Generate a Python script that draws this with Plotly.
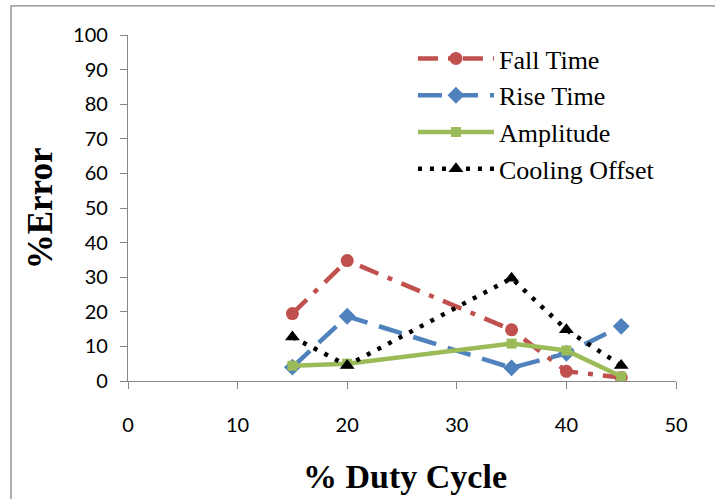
import plotly.graph_objects as go

# % duty cycle values and % error for each measured quantity
duty_cycle = [15, 20, 35, 40, 45]
fall_time = [19.5, 34.8, 14.8, 2.8, 1.0]
rise_time = [4.0, 18.7, 3.8, 8.0, 15.8]
amplitude = [4.4, 5.0, 10.8, 8.8, 1.3]
cooling_offset = [12.7, 4.5, 29.7, 14.8, 4.5]

x_ticks = [0, 10, 20, 30, 40, 50]
y_ticks = [0, 10, 20, 30, 40, 50, 60, 70, 80, 90, 100]

series = [
    ("Fall Time", fall_time, "#C0504D", "20px,10px,5px,10px", "circle", 13),
    ("Rise Time", rise_time, "#4F81BD", "24px,12px", "diamond", 13),
    ("Amplitude", amplitude, "#9BBB59", "solid", "square", 10),
    ("Cooling Offset", cooling_offset, "#000000", "4px,8px", "triangle-up", 13),
]

SERIF = "Liberation Serif"

fig = go.Figure()
for name, vals, color, dash, symbol, size in series:
    fig.add_trace(go.Scatter(
        x=duty_cycle, y=vals, name=name, mode="lines+markers",
        line=dict(color=color, width=4.5, dash=dash),
        marker=dict(symbol=symbol, size=size, color=color),
    ))

axis_common = dict(
    showgrid=False, zeroline=False, showline=True, linecolor="#868686",
    linewidth=1.3, ticks="outside", tickcolor="#868686", ticklen=7,
    tickfont=dict(family="Lato", size=20, color="#000000"),
)

fig.update_xaxes(range=[0, 50], tickvals=x_ticks, ticklabelstandoff=19, **axis_common)
fig.update_yaxes(range=[0, 100], tickvals=y_ticks, ticklabelstandoff=8, **axis_common)

fig.update_layout(
    width=715, height=499,
    margin=dict(l=128, r=39, t=35, b=118),
    paper_bgcolor="white", plot_bgcolor="white",
    showlegend=True,
    legend=dict(
        x=0.52, y=1.0, xanchor="left", yanchor="top",
        font=dict(family=SERIF, size=26, color="#000000"),
        bgcolor="rgba(0,0,0,0)", itemwidth=76, tracegroupgap=0,
    ),
    annotations=[
        dict(text="<b>% Duty Cycle</b>", xref="paper", yref="paper",
             x=0.506, y=-0.275, xanchor="center", yanchor="middle", showarrow=False,
             font=dict(family=SERIF, size=34, color="#000000")),
        dict(text="<b>%Error</b>", xref="paper", yref="paper",
             x=-0.16, y=0.5, xanchor="center", yanchor="middle", showarrow=False, textangle=-90,
             font=dict(family=SERIF, size=35, color="#000000")),
    ],
    shapes=[
        dict(type="rect", xref="paper", yref="paper",
             x0=-0.2135, y0=-0.5, x1=1.3, y1=1.084,
             line=dict(color="#868686", width=1.3), layer="below"),
    ],
)

fig.write_html("out.html")
